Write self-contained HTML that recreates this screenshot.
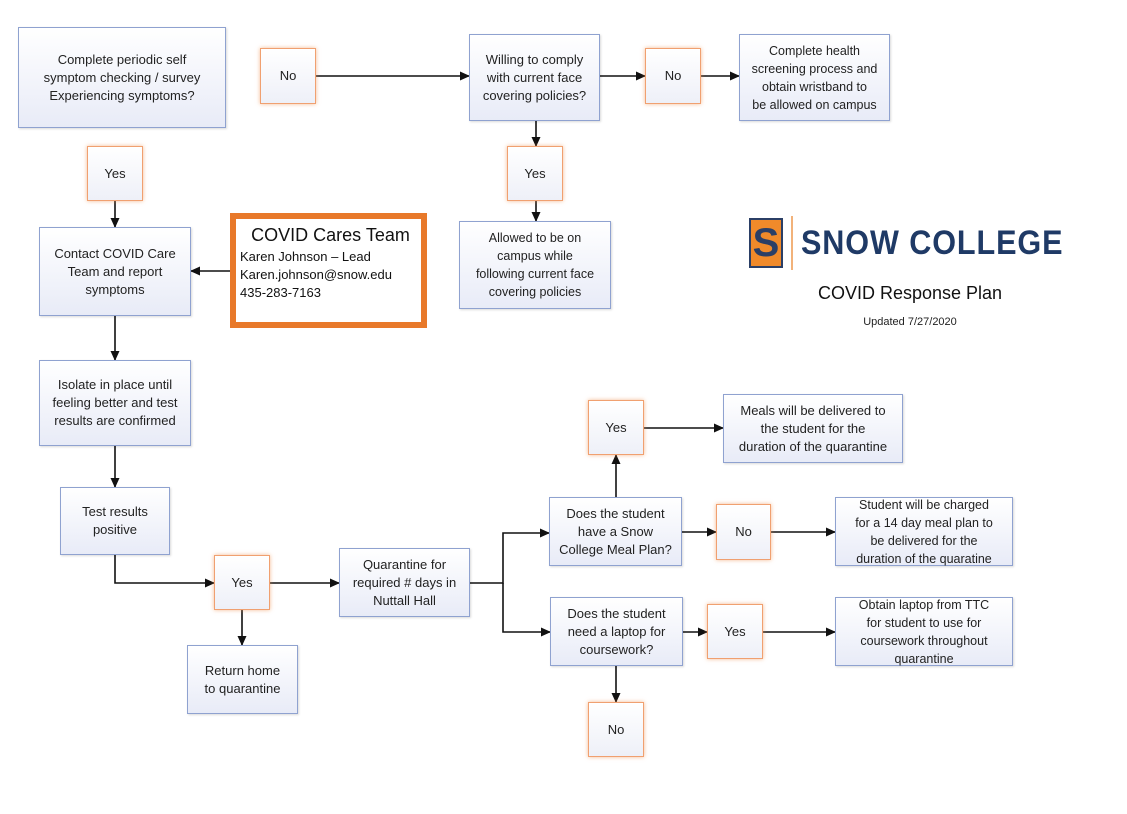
<!DOCTYPE html>
<html><head><style>
body{margin:0;width:1127px;height:814px;background:#fff;position:relative;overflow:hidden;font-family:"Liberation Sans",sans-serif;}
.b{position:absolute;box-sizing:border-box;border:1.5px solid #8fa2d0;background:linear-gradient(#fff,#e8ebf7);display:flex;align-items:center;justify-content:center;text-align:center;font-size:13px;line-height:18px;color:#222;box-shadow:1px 1px 2px rgba(0,0,0,.15);}
.s{font-size:12.5px;line-height:18px;}
.o{border:1.5px solid #f0a070;box-shadow:0 0 4px rgba(240,140,70,.6);background:linear-gradient(#fff,#eef0f8);}
svg{position:absolute;left:0;top:0;}
</style></head><body>
<svg width="1127" height="814">
<defs><marker id="a" markerWidth="10" markerHeight="10" refX="9" refY="5" orient="auto" markerUnits="userSpaceOnUse"><path d="M0,0.5 L10,5 L0,9.5z" fill="#111"/></marker></defs>
<g stroke="#111" stroke-width="1.6" fill="none" marker-end="url(#a)">
<path d="M316,76H469"/><path d="M600,76H645"/><path d="M701,76H739"/>
<path d="M536,121V146"/><path d="M536,201V221"/>
<path d="M115,201V227"/><path d="M230,271H191"/>
<path d="M115,316V360"/><path d="M115,446V487"/>
<path d="M115,555V583H214"/><path d="M270,583H339"/><path d="M242,610V645"/>
<path d="M470,583H503V533H549"/><path d="M503,583V632H550"/>
<path d="M616,497V455"/><path d="M644,428H723"/>
<path d="M682,532H716"/><path d="M771,532H835"/>
<path d="M683,632H707"/><path d="M763,632H835"/>
<path d="M616,666V702"/>
</g></svg>
<div class="b" style="left:18px;top:27px;width:208px;height:101px">Complete periodic self<br>symptom checking / survey<br>Experiencing symptoms?</div>
<div class="b o" style="left:260px;top:48px;width:56px;height:56px">No</div>
<div class="b" style="left:469px;top:34px;width:131px;height:87px">Willing to comply<br>with current face<br>covering policies?</div>
<div class="b o" style="left:645px;top:48px;width:56px;height:56px">No</div>
<div class="b s" style="left:739px;top:34px;width:151px;height:87px">Complete health<br>screening process and<br>obtain wristband to<br>be allowed on campus</div>
<div class="b o" style="left:87px;top:146px;width:56px;height:55px">Yes</div>
<div class="b o" style="left:507px;top:146px;width:56px;height:55px">Yes</div>
<div class="b" style="left:39px;top:227px;width:152px;height:89px">Contact COVID Care<br>Team and report<br>symptoms</div>
<div style="position:absolute;left:230px;top:213px;width:197px;height:115px;box-sizing:border-box;border:6px solid #e8792a;background:#fff;padding:5px 0 0 4px;color:#111;font-size:13px;line-height:18px">
<div style="font-size:18px;line-height:22px;text-align:center;margin-bottom:2px">COVID Cares Team</div>Karen Johnson – Lead<br>Karen.johnson@snow.edu<br>435-283-7163</div>
<div class="b s" style="left:459px;top:221px;width:152px;height:88px">Allowed to be on<br>campus while<br>following current face<br>covering policies</div>
<div class="b" style="left:39px;top:360px;width:152px;height:86px">Isolate in place until<br>feeling better and test<br>results are confirmed</div>
<div class="b" style="left:60px;top:487px;width:110px;height:68px">Test results<br>positive</div>
<div class="b o" style="left:214px;top:555px;width:56px;height:55px">Yes</div>
<div class="b" style="left:187px;top:645px;width:111px;height:69px">Return home<br>to quarantine</div>
<div class="b" style="left:339px;top:548px;width:131px;height:69px">Quarantine for<br>required # days in<br>Nuttall Hall</div>
<div class="b o" style="left:588px;top:400px;width:56px;height:55px">Yes</div>
<div class="b" style="left:723px;top:394px;width:180px;height:69px">Meals will be delivered to<br>the student for the<br>duration of the quarantine</div>
<div class="b" style="left:549px;top:497px;width:133px;height:69px">Does the student<br>have a Snow<br>College Meal Plan?</div>
<div class="b o" style="left:716px;top:504px;width:55px;height:56px">No</div>
<div class="b s" style="left:835px;top:497px;width:178px;height:69px">Student will be charged<br>for a 14 day meal plan to<br>be delivered for the<br>duration of the quaratine</div>
<div class="b" style="left:550px;top:597px;width:133px;height:69px">Does the student<br>need a laptop for<br>coursework?</div>
<div class="b o" style="left:707px;top:604px;width:56px;height:55px">Yes</div>
<div class="b s" style="left:835px;top:597px;width:178px;height:69px">Obtain laptop from TTC<br>for student to use for<br>coursework throughout<br>quarantine</div>
<div class="b o" style="left:588px;top:702px;width:56px;height:55px">No</div>
<div style="position:absolute;left:749px;top:218px;width:34px;height:50px;background:#f08a2a;border:2px solid #2b3f66;box-sizing:border-box;color:#2b3f66;font:900 40px/46px 'Liberation Sans',sans-serif;text-align:center">S</div>
<div style="position:absolute;left:791px;top:216px;width:2px;height:54px;background:#f2b27a"></div>
<div style="position:absolute;left:801px;top:220px;color:#1f3a66;font:900 34px/46px 'Liberation Sans',sans-serif;letter-spacing:1px;transform:scaleX(0.9);transform-origin:left">SNOW COLLEGE</div>
<div style="position:absolute;left:780px;top:283px;width:260px;text-align:center;font-size:18px;color:#111">COVID Response Plan</div>
<div style="position:absolute;left:780px;top:316px;width:260px;text-align:center;font-size:11px;color:#222">Updated 7/27/2020</div>
</body></html>
